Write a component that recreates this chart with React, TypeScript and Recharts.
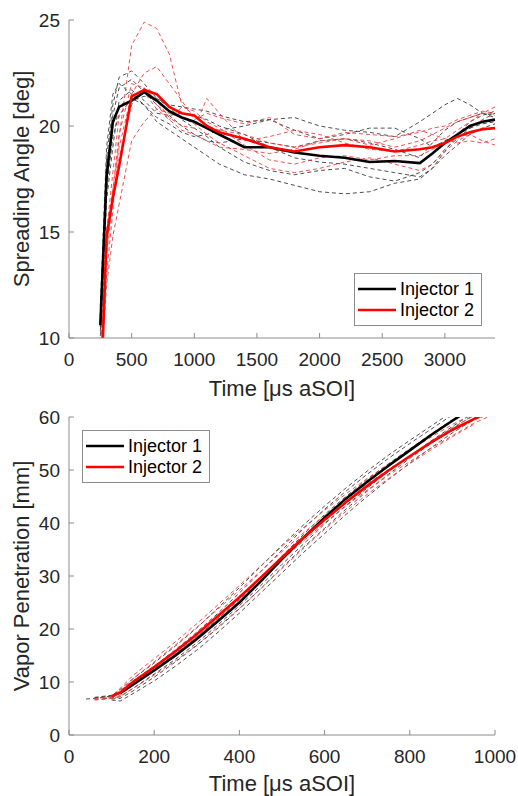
import React from "react";
import { Legend, Line, LineChart, XAxis, YAxis } from "recharts";

// ---- Spreading angle (top) ----
const angleTimes = [250, 300, 350, 400, 500, 600, 700, 800, 900, 1000, 1100, 1200, 1400, 1600, 1800, 2000, 2200, 2400, 2600, 2800, 2900, 3000, 3100, 3200, 3300, 3400];
const angleMean1 = [10.6, 17.6, 20.2, 20.9, 21.2, 21.6, 21.2, 20.7, 20.4, 20.2, 19.9, 19.6, 19.0, 19.0, 18.75, 18.6, 18.5, 18.3, 18.35, 18.25, 18.7, 19.2, 19.6, 20.0, 20.2, 20.3];
const angleMean2 = [6.6, 14.8, 16.6, 18.1, 21.4, 21.7, 21.5, 20.9, 20.6, 20.5, 20.0, 19.7, 19.4, 19.0, 18.8, 19.0, 19.1, 19.0, 18.8, 18.9, 19.0, 19.2, 19.5, 19.7, 19.85, 19.9];
const angleRuns1 = [
  [11.0, 18.5, 21.0, 22.3, 22.6, 22.0, 21.3, 21.0, 20.9, 20.8, 20.7, 20.5, 20.2, 20.3, 20.4, 20.0, 19.8, 19.7, 19.5, 20.2, 20.6, 21.0, 21.3, 21.0, 20.6, 20.5],
  [10.5, 17.0, 19.5, 20.5, 21.3, 21.0, 20.2, 19.8, 19.4, 19.0, 18.6, 18.2, 17.7, 17.5, 17.2, 16.9, 16.8, 16.9, 17.3, 17.5, 18.0, 18.6, 19.1, 19.6, 19.9, 20.1],
  [10.8, 18.0, 20.5, 21.8, 22.2, 21.6, 21.0, 20.5, 20.0, 19.6, 19.3, 19.2, 19.4, 19.2, 19.0, 19.3, 19.4, 19.2, 18.9, 18.5, 19.2, 19.8, 20.2, 20.4, 20.6, 20.4],
  [10.3, 17.5, 20.0, 21.0, 21.2, 21.4, 21.3, 20.9, 20.3, 19.9, 19.5, 19.0, 18.3, 17.9, 17.7, 17.9, 18.0, 17.6, 17.4, 17.8, 18.2, 18.9, 19.4, 19.9, 20.3, 20.6],
  [10.1, 16.5, 19.0, 21.2, 21.7, 21.2, 20.6, 20.5, 20.6, 20.5, 20.3, 20.0, 19.6, 19.0, 18.5, 18.3, 18.2, 18.0, 17.8, 17.6, 18.0, 18.8, 19.6, 20.2, 20.5, 20.7],
  [11.5, 19.0, 21.5, 22.0, 21.5, 21.0, 20.4, 20.1, 19.7, 19.5, 19.6, 19.8, 20.0, 20.3, 19.8, 19.4, 19.6, 19.9, 19.9, 19.4, 19.0, 19.3, 19.6, 19.9, 20.1, 20.2],
];
const angleRuns2 = [
  [8.5, 13.0, 16.0, 19.5, 23.8, 24.9, 24.6, 23.4, 21.0, 20.5, 20.0, 19.8, 19.6, 19.2, 19.0, 19.2, 19.4, 19.3, 19.0, 19.3, 19.6, 19.9, 20.2, 20.4, 20.6, 20.9],
  [9.0, 14.0, 17.0, 19.0, 21.5, 22.5, 22.8, 22.0, 21.2, 20.3, 20.6, 20.4, 20.1, 20.4, 19.6, 19.4, 19.7, 19.6, 19.5, 19.7, 19.9, 20.0, 20.3, 20.5, 20.7, 20.6],
  [8.0, 12.5, 14.8, 16.3, 19.3, 20.2, 20.8, 20.6, 20.4, 20.1, 19.6, 19.2, 18.6, 18.0, 17.8, 18.0, 18.3, 18.5, 18.2, 17.9, 18.2, 18.8, 19.3, 19.6, 19.3, 19.1],
  [9.2, 14.8, 17.0, 19.6, 22.0, 21.8, 21.2, 20.4, 20.0, 19.9, 21.3, 20.6, 19.3, 19.5, 19.8, 19.6, 19.2, 18.9, 18.8, 19.1, 19.3, 19.4, 19.8, 20.2, 20.6, 20.6],
  [8.8, 13.9, 16.5, 18.5, 21.0, 21.8, 21.0, 20.3, 20.9, 20.7, 20.2, 19.9, 19.1, 18.4, 18.2, 18.5, 18.6, 18.4, 18.6, 18.6, 18.9, 19.2, 19.5, 19.6, 19.9, 19.9],
  [9.5, 15.0, 17.8, 20.5, 21.3, 21.6, 20.8, 20.3, 19.8, 19.6, 19.3, 19.0, 18.9, 18.7, 18.9, 19.3, 19.4, 19.1, 19.4, 19.8, 19.6, 19.4, 19.2, 19.3, 19.2, 19.4],
];
const angleXTicks = [0, 500, 1000, 1500, 2000, 2500, 3000];
const angleYTicks = [10, 15, 20, 25];

// ---- Vapor penetration (bottom) ----
const penTimes = [40, 60, 80, 100, 120, 150, 200, 250, 300, 350, 400, 450, 500, 550, 600, 650, 700, 750, 800, 850, 900, 950, 1000];
const penMean1 = [null, null, null, null, 7.9, 9.5, 12.2, 15.0, 18.1, 21.5, 25.0, 29.0, 33.2, 37.2, 41.0, 44.6, 47.8, 50.8, 53.7, 56.6, 59.3, 61.9, null];
const penMean2 = [null, null, null, 7.3, 8.0, 10.0, 12.8, 15.8, 19.0, 22.5, 26.0, 29.7, 33.5, 37.2, 40.6, 43.9, 47.0, 49.9, 52.6, 55.2, 57.6, 59.6, 61.6];
const penRuns1 = [
  [6.8, 6.9, 7.1, 7.4, 8.6, 10.6, 13.6, 16.8, 20.2, 24.0, 27.8, 31.8, 35.8, 39.6, 43.2, 46.6, 49.8, 52.8, 55.6, 58.3, 61.0, null, null],
  [null, null, null, 6.6, 6.4, 7.8, 10.2, 13.0, 16.0, 19.4, 23.0, 26.8, 30.6, 34.4, 38.0, 41.6, 45.0, 48.2, 51.3, 54.2, 57.0, 59.5, 60.8],
  [null, 7.0, 7.2, 7.3, 7.8, 9.6, 12.4, 15.3, 18.5, 22.0, 25.6, 29.6, 33.8, 37.8, 41.6, 45.0, 48.2, 51.2, 54.0, 56.8, 59.5, 62.0, null],
  [null, null, 6.9, 7.0, 7.2, 8.8, 11.5, 14.3, 17.4, 20.8, 24.4, 28.2, 32.2, 36.0, 39.8, 43.3, 46.6, 49.7, 52.6, 55.5, 58.2, 60.8, null],
  [null, 7.1, 7.3, 7.5, 8.3, 10.2, 13.0, 16.1, 19.4, 23.0, 26.8, 30.8, 34.9, 38.9, 42.6, 46.0, 49.2, 52.2, 55.0, 57.7, 60.4, null, null],
  [null, null, null, 6.8, 6.9, 8.3, 10.9, 13.8, 16.9, 20.2, 23.8, 27.6, 31.6, 35.4, 39.0, 42.6, 46.0, 49.2, 52.2, 55.0, 57.8, 60.4, null],
];
const penRuns2 = [
  [null, 6.7, 6.8, 7.2, 8.8, 11.2, 14.4, 17.6, 21.0, 24.6, 28.2, 31.9, 35.6, 39.1, 42.4, 45.5, 48.4, 51.1, 53.7, 56.2, 58.6, 60.6, null],
  [null, 6.6, 6.7, 6.9, 7.3, 8.8, 11.3, 14.0, 17.0, 20.4, 23.9, 27.6, 31.4, 35.2, 38.8, 42.2, 45.4, 48.4, 51.2, 53.8, 56.3, 58.6, null],
  [null, null, 6.9, 7.0, 8.2, 10.6, 13.8, 17.0, 20.3, 23.8, 27.3, 30.9, 34.6, 38.1, 41.4, 44.5, 47.4, 50.1, 52.6, 55.1, 57.4, 59.4, 61.0],
  [null, 6.8, 7.0, 7.2, 8.0, 9.8, 12.6, 15.5, 18.6, 22.0, 25.5, 29.2, 33.0, 36.6, 40.0, 43.2, 46.2, 49.0, 51.6, 54.1, 56.5, 58.8, 60.6],
  [null, null, null, 7.2, 7.5, 9.4, 12.2, 15.3, 18.5, 22.1, 25.8, 29.5, 33.2, 36.9, 40.4, 43.7, 46.8, 49.8, 52.6, 55.4, 58.0, 60.2, 62.0],
];
const penXTicks = [0, 200, 400, 600, 800, 1000];
const penYTicks = [0, 10, 20, 30, 40, 50, 60];

const injectorNames = ["Injector 1", "Injector 2"];
const injectorColors = ["#000000", "#ff0000"];
const runColors = ["#3a3a3a", "#f03c3c"];

const FONT = "'Liberation Sans', Arial, Helvetica, sans-serif";
const AXIS = "#8c8c8c";
const TEXT = "#262626";

type Cell = number | null;

function buildRows(times: number[], m1: Cell[], m2: Cell[], r1: Cell[][], r2: Cell[][]) {
  return times.map((t, i) => {
    const row: Record<string, Cell> = { t, m1: m1[i], m2: m2[i] };
    r1.forEach((r, j) => (row[`a${j}`] = r[i]));
    r2.forEach((r, j) => (row[`b${j}`] = r[i]));
    return row;
  });
}

const angleRows = buildRows(angleTimes, angleMean1, angleMean2, angleRuns1, angleRuns2);
const penRows = buildRows(penTimes, penMean1, penMean2, penRuns1, penRuns2);

function LegendBox() {
  return (
    <div
      style={{
        width: 126,
        height: 51,
        border: `1px solid ${AXIS}`,
        background: "#fff",
        fontFamily: FONT,
        fontSize: 18,
        color: "#000",
        position: "relative",
      }}
    >
      {injectorNames.map((name, i) => (
        <div key={name} style={{ position: "absolute", left: 0, top: 4 + i * 21, height: 22, display: "flex", alignItems: "center" }}>
          <svg width={44} height={22}>
            <line x1={3} x2={41} y1={11} y2={11} stroke={injectorColors[i]} strokeWidth={2.6} />
          </svg>
          <span style={{ marginLeft: 1 }}>{name}</span>
        </div>
      ))}
    </div>
  );
}

const yTitle = (text: string) => (props: any) => {
  const vb = props.viewBox || {};
  const cx = 29;
  const cy = (vb.y ?? 0) + (vb.height ?? 0) / 2;
  return (
    <text x={cx} y={cy} transform={`rotate(-90 ${cx} ${cy})`} textAnchor="middle" fill={TEXT} fontSize={22} fontFamily={FONT}>
      {text}
    </text>
  );
};

interface PanelProps {
  rows: Record<string, Cell>[];
  runs1: number;
  runs2: number;
  height: number;
  xDomain: [number, number];
  yDomain: [number, number];
  xTicks: number[];
  yTicks: number[];
  yLabel: string;
  margin: { top: number; right: number; left: number; bottom: number };
  titleOffset: number;
  legendPos: { left: number; top: number };
}

function Panel({ rows, runs1, runs2, height, xDomain, yDomain, xTicks, yTicks, yLabel, margin, titleOffset, legendPos }: PanelProps) {
  return (
    <LineChart width={518} height={height} data={rows} margin={margin}>
      <XAxis
        dataKey="t"
        type="number"
        domain={xDomain}
        ticks={xTicks}
        interval={0}
        height={60}
        axisLine={{ stroke: AXIS }}
        tickLine={{ stroke: AXIS }}
        tickSize={-5}
        tickMargin={20}
        tick={{ fill: TEXT, fontSize: 19, fontFamily: FONT }}
        label={{ value: "Time [μs aSOI]", position: "insideBottom", offset: titleOffset, fill: TEXT, fontSize: 22, fontFamily: FONT }}
      />
      <YAxis
        type="number"
        domain={yDomain}
        ticks={yTicks}
        interval={0}
        width={69}
        allowDataOverflow
        axisLine={{ stroke: AXIS }}
        tickLine={{ stroke: AXIS }}
        tickSize={-5}
        tickMargin={14}
        tick={{ fill: TEXT, fontSize: 19, fontFamily: FONT }}
        label={yTitle(yLabel)}
      />
      <Legend
        layout="vertical"
        align="center"
        verticalAlign="middle"
        wrapperStyle={{ left: legendPos.left, top: legendPos.top, width: 128, height: 53 }}
        content={() => <LegendBox />}
      />
      {Array.from({ length: runs1 }, (_, j) => (
        <Line key={`a${j}`} dataKey={`a${j}`} stroke={runColors[0]} strokeWidth={0.9} strokeDasharray="4 3" dot={false} isAnimationActive={false} legendType="none" />
      ))}
      {Array.from({ length: runs2 }, (_, j) => (
        <Line key={`b${j}`} dataKey={`b${j}`} stroke={runColors[1]} strokeWidth={0.9} strokeDasharray="4 3" dot={false} isAnimationActive={false} legendType="none" />
      ))}
      <Line dataKey="m1" name={injectorNames[0]} stroke={injectorColors[0]} strokeWidth={2.6} dot={false} isAnimationActive={false} />
      <Line dataKey="m2" name={injectorNames[1]} stroke={injectorColors[1]} strokeWidth={2.6} dot={false} isAnimationActive={false} />
    </LineChart>
  );
}

export default function App() {
  return (
    <div style={{ position: "absolute", left: 0, top: 0, width: 518, height: 796, background: "#fff" }}>
      <Panel
        rows={angleRows}
        runs1={angleRuns1.length}
        runs2={angleRuns2.length}
        height={405}
        xDomain={[0, 3400]}
        yDomain={[10, 25]}
        xTicks={angleXTicks}
        yTicks={angleYTicks}
        yLabel="Spreading Angle [deg]"
        margin={{ top: 20, right: 23, left: 0, bottom: 7 }}
        titleOffset={2}
        legendPos={{ left: 354, top: 273 }}
      />
      <Panel
        rows={penRows}
        runs1={penRuns1.length}
        runs2={penRuns2.length}
        height={391}
        xDomain={[0, 1000]}
        yDomain={[0, 60]}
        xTicks={penXTicks}
        yTicks={penYTicks}
        yLabel="Vapor Penetration [mm]"
        margin={{ top: 12, right: 23, left: 0, bottom: 1 }}
        titleOffset={4}
        legendPos={{ left: 82, top: 25 }}
      />
    </div>
  );
}
